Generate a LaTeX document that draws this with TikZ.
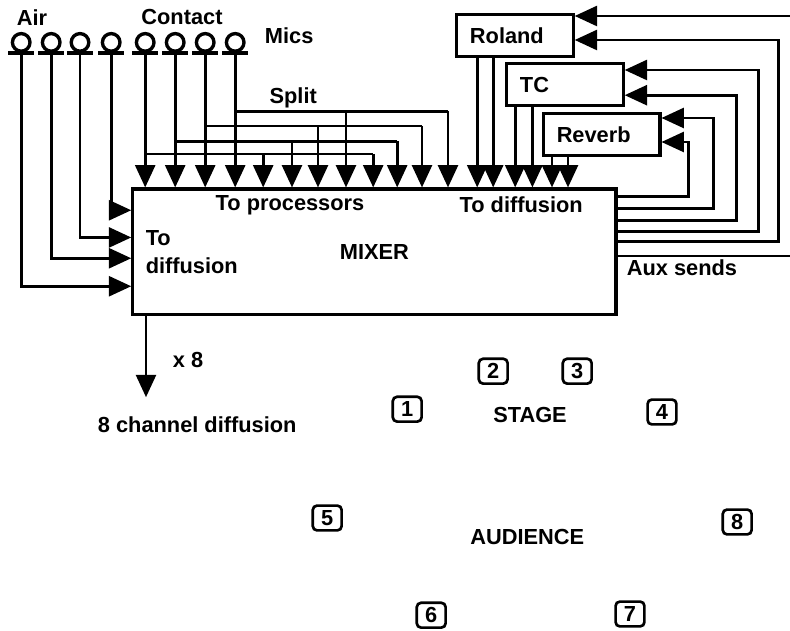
\documentclass[tikz,border=0pt]{standalone}
\usepackage{fontspec}
\setmainfont{Liberation Sans}
\usetikzlibrary{arrows.meta}

\begin{document}
\begin{tikzpicture}[
  line/.style   = {line width=1.9pt},
  arrow/.style  = {line width=1.9pt, -{Triangle[length=0.56cm,width=0.5cm]}},
  mixer/.style  = {draw, line width=2.2pt, minimum width=12.08cm,
                   minimum height=3.13cm, inner sep=0pt},
  proc/.style   = {draw, line width=2.2pt, anchor=north west, minimum height=1.05cm,
                   text width=2.25cm, inner xsep=0.33cm, align=left},
  mic/.style    = {draw, circle, line width=2.4pt, minimum size=0.44cm, inner sep=0pt},
  base/.style   = {line width=2.8pt},
  spk/.style    = {draw, line width=1.9pt, rounded corners=3pt,
                   minimum width=0.72cm, minimum height=0.62cm, inner sep=0pt},
  every node/.style = {font=\bfseries\fontsize{15.5}{20}\selectfont},
]
  \useasboundingbox (0,0) rectangle (19.75,-15.775);

  \node[mixer] (mixer) at (9.36,-6.29) {MIXER};
  \node (toproc) at (7.25,-5.13) {To processors};
  \node (todiffr) at (13.03,-5.13) {To diffusion};
  \node[anchor=west, align=left] (todiffl) at (3.52,-6.3) {To\\diffusion};

  \node[proc] (roland) at (11.38,-0.33) {Roland};
  \node[proc] (tc) at (12.63,-1.55) {TC};
  \node[proc] (reverb) at (13.55,-2.8) {Reverb};

  % mics: 4 air, 4 contact
  \foreach \x [count=\i] in {0.53,1.28,2.0,2.78,3.63,4.38,5.13,5.88} {
    \node[mic] (m\i) at (\x,-1.06) {};
    \draw[base] ([xshift=-0.33cm]m\i.south) -- ([xshift=0.33cm]m\i.south);
  }
  \node (air) at (0.8,-0.43) {Air};
  \node (contact) at (4.55,-0.43) {Contact};
  \node (mics) at (7.23,-0.9) {Mics};
  \node (split) at (7.33,-2.45) {Split};

  % air mics go straight to diffusion
  \draw[arrow] (m4.south) |- ([yshift=-0.57cm]mixer.north west);
  \draw[arrow] (m3.south) |- ([yshift=-1.25cm]mixer.north west);
  \draw[arrow] (m2.south) |- ([yshift=-1.77cm]mixer.north west);
  \draw[arrow] (m1.south) |- ([yshift=-2.47cm]mixer.north west);

  % contact mics, each split twice
  \foreach \m in {m5,m6,m7,m8}
    \draw[arrow] (\m.south) -- (\m.south |- mixer.north);
  \foreach \m/\y/\a/\b in {m5/3.85/6.58/9.33, m6/3.53/7.3/9.93,
                           m7/3.15/7.95/10.55, m8/2.78/8.65/11.2} {
    \coordinate (\m-a) at (\a,-\y);
    \coordinate (\m-b) at (\b,-\y);
    \draw[line] (\m.south |- \m-b) -- (\m-b);
    \draw[arrow] (\m-a) -- (\m-a |- mixer.north);
    \draw[arrow] (\m-b) -- (\m-b |- mixer.north);
  }

  % processor returns
  \foreach \p/\dx in {roland/0.55, roland/0.95, tc/0.25, tc/0.68, reverb/0.25, reverb/0.65}
    \draw[arrow] ([xshift=\dx cm]\p.south west) -- ([xshift=\dx cm]\p.south west |- mixer.north);

  % aux sends
  \draw[arrow] ([yshift=-0.22cm]mixer.north east) -- ++(1.78,0) |- ([yshift=-0.75cm]reverb.north east);
  \draw[arrow] ([yshift=-0.52cm]mixer.north east) -- ++(2.4,0) |- ([yshift=-0.15cm]reverb.north east);
  \draw[arrow] ([yshift=-0.82cm]mixer.north east) -- ++(2.98,0) |- ([yshift=-0.83cm]tc.north east);
  \draw[arrow] ([yshift=-1.1cm]mixer.north east) -- ++(3.53,0) |- ([yshift=-0.2cm]tc.north east);
  \draw[arrow] ([yshift=-1.35cm]mixer.north east) -- ++(4.03,0) |- ([yshift=-0.67cm]roland.north east);
  \coordinate (auxout) at (19.75,-6.4);
  \draw[line] (mixer.east |- auxout) -- (auxout);
  \coordinate (auxin) at (19.75,-0.4);
  \draw[arrow] (auxin) -- (auxin -| roland.east);
  \node (aux) at (17.05,-6.7) {Aux sends};

  % diffusion out
  \coordinate (diffout) at (3.65,-9.93);
  \draw[arrow] (diffout |- mixer.south) -- (diffout);
  \node (x8) at (4.7,-9.0) {x 8};
  \node (diff) at (4.93,-10.63) {8 channel diffusion};

  % speakers round the hall
  \foreach \n/\x/\y in {1/10.18/-10.23, 2/12.33/-9.28, 3/14.43/-9.28, 4/16.55/-10.3,
                        5/8.18/-12.95, 6/10.78/-15.38, 7/15.75/-15.35, 8/18.43/-13.05}
    \node[spk] (spk\n) at (\x,\y) {\n};
  \node (stage) at (13.25,-10.38) {STAGE};
  \node (audience) at (13.18,-13.43) {AUDIENCE};
\end{tikzpicture}
\end{document}
